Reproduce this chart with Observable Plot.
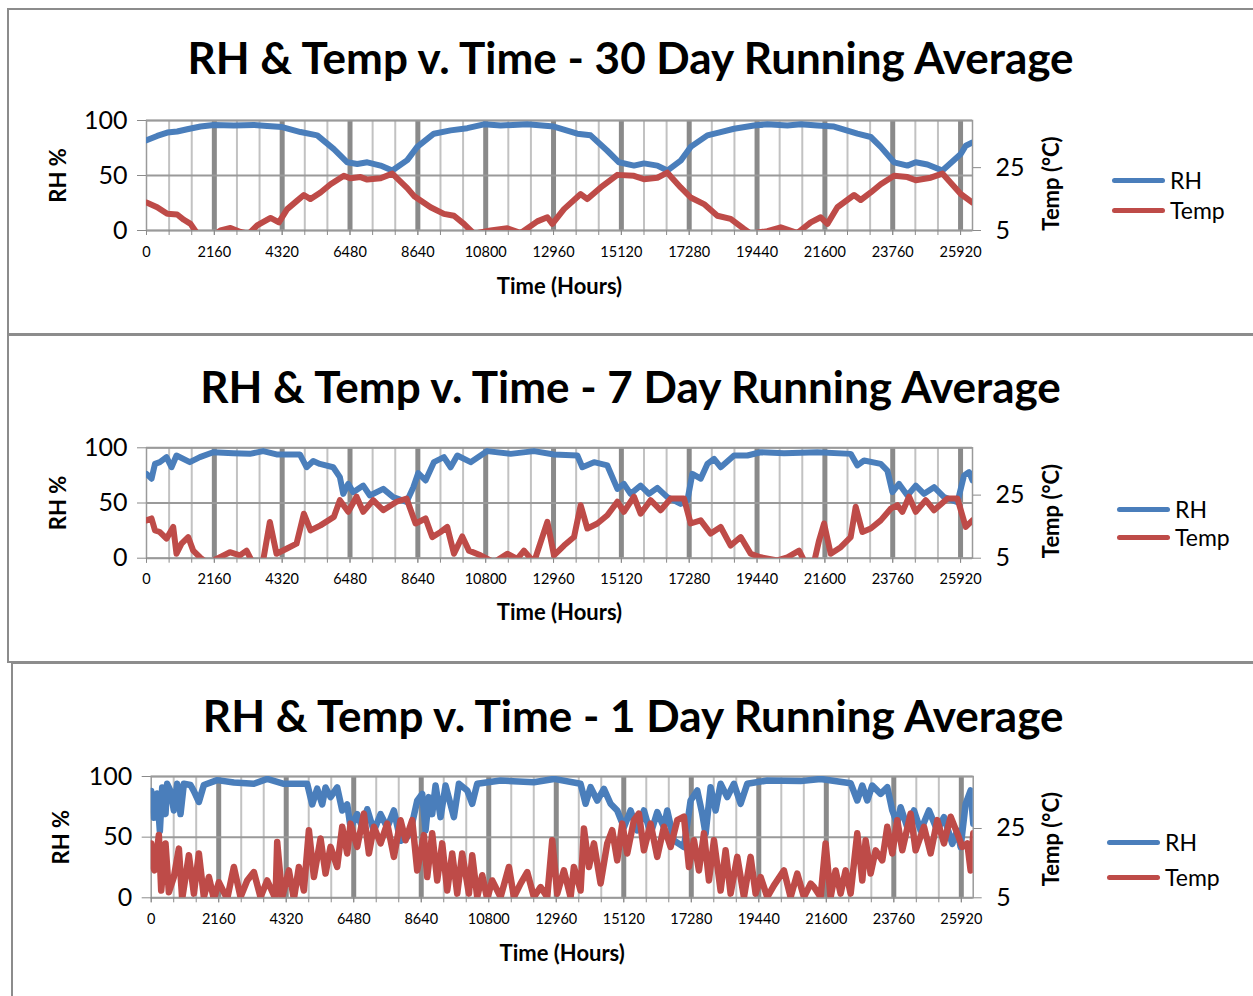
<!DOCTYPE html>
<html>
<head>
<meta charset="utf-8">
<script src="https://cdn.jsdelivr.net/npm/d3@7"></script>
<script src="https://cdn.jsdelivr.net/npm/@observablehq/plot@0.6"></script>
<style>
  html, body { margin: 0; padding: 0; background: #fff; }
  body { width: 1253px; height: 996px; position: relative; overflow: hidden; font-family: Lato, "Open Sans", sans-serif; }
  .panel { position: absolute; border: 2px solid #8c8c8c; box-sizing: border-box; }
  .chart { position: absolute; left: 0; }
  .legend { position: absolute; font-size: 23px; color: #000; }
  .legend .item { position: absolute; left: 0; height: 30px; white-space: nowrap; }
  .legend .swatch { position: absolute; left: 0; width: 53px; height: 5px; border-radius: 3px; }
  .legend .lab { position: absolute; left: 58px; line-height: 24px; top: -12px; }
</style>
</head>
<body>
<div class="panel" style="left:7px;top:8px;width:1260px;height:327px"></div>
<div class="panel" style="left:7px;top:334px;width:1260px;height:329px"></div>
<div class="panel" style="left:11px;top:662px;width:1260px;height:345px"></div>
<div id="c1" class="chart" style="top:0px"></div>
<div id="c2" class="chart" style="top:333px"></div>
<div id="c3" class="chart" style="top:663px"></div>
<script>
// ---------- shared axis data ----------
const xTicks = [0, 2160, 4320, 6480, 8640, 10800, 12960, 15120, 17280, 19440, 21600, 23760, 25920];
const rhTicks = [0, 50, 100];
const tempTicks = [5, 25];
const seriesNames = ["RH", "Temp"];
const seriesColors = ["#4a7ebb", "#be4b48"];
const titles = [
  "RH & Temp v. Time - 30 Day Running Average",
  "RH & Temp v. Time - 7 Day Running Average",
  "RH & Temp v. Time - 1 Day Running Average"
];
const xLabel = "Time (Hours)";
const yLabel = "RH %";
const y2Label = "Temp (°C)";

// ---------- 30 day running average ----------
const rh30Hours = [0,340,660,977,1296,1720,2144,2780,3418,3843,4320,4905,5437,5966,6392,6710,7030,7453,7825,8303,8620,9150,9683,10214,10745,11275,12125,12972,13716,14140,14673,15044,15521,15840,16266,16584,17008,17326,17858,18282,18707,19344,19769,20406,20830,21361,21892,22635,23060,23378,23803,24228,24493,24864,25342,25926,26085,26298];
const rh30Values = [82,86,89,90,92,94.5,96,95.5,96,95,94,89.5,86.5,74,62,60.5,62,59,54.5,64,76,88,91,93,96.5,95.5,96.5,94.5,88,86.5,72.5,62,59,61,59,54.5,63.5,76,86.5,89.5,92.5,95.5,96.5,95.5,96.5,95.5,94.5,88,85,76,62,59,62,60,54.5,69.5,77,80];
const temp30Hours = [0,340,660,977,1190,1403,1615,2144,2356,2675,2993,3259,3524,3950,4215,4480,4798,5010,5223,5541,5860,6284,6496,6815,7030,7453,7825,8303,8515,9045,9470,9790,10107,10426,10957,11488,11913,12444,12763,12922,13293,13824,14037,14462,14993,15521,15840,16266,16584,17008,17326,17751,18176,18600,19025,19237,19769,20194,20725,21149,21467,21680,21998,22528,22741,23060,23378,23803,24228,24493,24971,25342,25926,26298];
const temp30Values = [13.9,12.4,10.3,10.1,8.4,7.1,4,3.5,5,5.8,4.5,4,6.6,9,7.6,11.8,14.5,16.3,15,17.1,19.7,22.4,21.6,22,21.2,21.6,23.1,18.5,16,12.4,10.3,9.7,7.1,4,5,5.7,4.2,7.9,9.2,7.1,11.8,16.6,15,18.7,22.7,22.4,21.3,21.8,23.4,18.7,15.5,13.4,9.7,8.7,5.5,4,4.8,6,4.2,7.6,9.2,7.1,12.4,16.3,14.7,17.1,19.7,22.4,22,21,21.8,23.1,16.6,13.9];

// ---------- 7 day running average ----------
const rh7Hours = [0,160,270,425,637,796,955,1380,1700,2124,2760,3290,3715,4140,4884,5096,5308,5520,5945,6157,6264,6423,6582,6900,7113,7538,7856,8280,8493,8650,8886,9150,9470,9683,9896,10320,10850,11594,12337,12975,13718,13877,14250,14673,14993,15200,15414,15733,15999,16266,16584,17008,17220,17380,17645,17858,18070,18282,18707,19131,19556,20300,20830,21361,22422,22635,22847,23378,23590,23750,23962,24228,24493,24758,25076,25395,25820,26032,26191,26300];
const rh7Values = [76.4,72,85.4,87,91.5,82.4,93,87,91.5,96,95,94.5,97,94,94,82.4,88,85.4,82.4,73.4,58.3,67.3,59.8,65.8,56.8,62.8,55.3,51,64,77,70.4,87,91.5,82.4,93,87,97,94.5,97,94,93,82.4,87,84,62.8,67.3,58.3,65.8,58.3,63.7,55.3,49.2,52.2,76.4,72,85.4,90,82.4,93,93,96,95,95.5,96,94.5,84,88.5,85.4,79.4,59.8,67.3,56.8,65.8,58.3,64.3,55.3,50.7,75,78,70.4];
const temp7Hours = [0,160,270,425,637,850,955,1115,1327,1487,1700,1965,2230,2655,2973,3185,3400,3715,3927,4140,4458,4777,5010,5223,5541,5966,6157,6423,6688,6900,7219,7538,7963,8280,8567,8886,9098,9363,9576,9790,10054,10266,10638,11063,11488,11806,12019,12337,12763,12975,13293,13612,13824,14037,14356,14673,14993,15200,15521,15733,16050,16372,16690,17114,17326,17645,17964,18282,18600,18920,19237,19556,20088,20406,20778,20990,21255,21414,21573,21786,22104,22422,22581,22794,23060,23378,23696,23909,24068,24280,24493,24811,25076,25502,25820,26085,26300];
const temp7Values = [17,17.6,13.8,13.3,11.2,14.9,6.4,9.6,11.7,7.4,5.3,3.2,4.8,6.9,5.9,7.4,3.2,4.3,16.5,6.4,8,9.6,19.1,13.8,15.4,18.1,23.4,19.7,24.5,19.7,23.4,20.2,22.9,23.9,16,17.6,11.7,13.3,14.9,6.4,11.9,7.4,5.9,3.7,6.4,4.8,7.4,3.7,16.5,5.9,9,11.7,21.8,14.4,16,18.6,22.9,19.7,24.5,19.1,23.4,20.2,23.9,23.9,16,17,12.8,14.9,9,11.7,6.4,5.3,4.3,5.3,7.4,3.2,3.7,10.6,16,6.4,8.5,11.7,21.3,13.3,14.4,17,20.7,21.8,19.7,24.5,19.7,23.4,20.2,23.9,23.9,14.9,17];

// ---------- 1 day running average ----------
const rh1Hours = [0,85,192,277,352,458,511,618,725,831,938,1045,1258,1365,1525,1685,2111,2645,3285,3712,4245,4991,5151,5311,5472,5578,5738,5951,6112,6272,6378,6591,6752,6912,7125,7338,7552,7765,7978,8192,8298,8511,8671,8778,8885,8991,9098,9258,9418,9685,9845,10111,10271,10431,11178,12245,12885,13738,13898,14058,14271,14485,14698,14911,15125,15338,15551,15765,15978,16191,16405,16511,16725,17045,17258,17471,17631,17738,17898,18058,18218,18431,18645,18858,19071,19711,20778,21418,22378,22591,22751,22911,23071,23338,23551,23711,23871,23978,24191,24405,24618,24885,25151,25365,25631,25791,25898,26058,26218,26303];
const rh1Values = [88,66,86,55,91,69,94,88,72,94,69,94,93,88,79,93,97,95,94,98,94,94,77,90,77,91,83,91,72,77,58,69,58,73,55,69,58,72,47,50,55.5,80,85.7,55.5,83,69,92.6,66.5,92.6,66.5,94,88.5,77.5,94,96.7,95.3,98,94,77.5,91.2,80.2,89.8,77.5,72,58.2,72,55.5,72,52.7,70.6,58.2,72,47.3,41.8,80.2,88.5,69.2,52.7,91.2,72,94,83,94,77.5,94,96.7,96.2,98,94.5,80.2,92.6,80.2,92.6,85.7,91.2,72,61,74.7,58.2,72,55.5,72,55.5,66.5,44.5,55.5,41.8,77.5,88.5,61];
const temp1Hours = [0,53,106,245,320,458,565,725,885,991,1205,1365,1525,1685,1845,2005,2165,2431,2645,2858,3071,3285,3498,3712,3978,4031,4191,4405,4565,4725,4885,5045,5205,5418,5578,5738,5951,6112,6272,6378,6591,6805,6965,7125,7338,7552,7765,7978,8138,8351,8511,8725,8831,8991,9151,9311,9471,9631,9791,9951,10165,10271,10431,10591,10751,10911,11178,11445,11605,11818,12031,12245,12458,12671,12831,12991,13205,13418,13525,13738,13845,14005,14165,14378,14591,14751,14911,15071,15231,15445,15605,15765,15978,16191,16405,16618,16831,17045,17205,17365,17525,17685,17845,18005,18218,18378,18538,18751,18965,19178,19338,19498,19711,19925,20245,20458,20671,20885,21098,21205,21418,21578,21738,21898,22058,22218,22378,22591,22751,22858,23018,23178,23391,23551,23711,23871,24031,24298,24458,24725,24938,25151,25365,25578,25791,25951,26111,26218,26303];
const temp1Values = [20.7,13.9,12.9,23.1,7.1,20.7,6.6,11,19.2,4.7,17.3,6.2,17.8,5.2,11,4.7,9.5,4.7,13.9,5.2,10,12.4,5.2,10,4.7,21.1,5.2,12.9,4.7,13.9,7.1,24.5,11,22.1,12,19.7,13.9,25.5,17.8,26.4,19.7,29.3,17.8,25.5,20.7,26.4,16.8,27.4,21.6,27.4,12.9,23.1,11,23.6,10,20.7,7.1,17.8,6.2,17.8,6.2,17.3,5.2,11.5,4.7,10,5.2,13.9,5.2,9.1,12.4,5.2,8.1,5.2,21.6,6.2,12.9,5.2,13.9,7.1,25,13.9,20.7,9.1,20.7,24.5,15.8,26.4,17.8,27.4,29.3,18.7,26.4,16.8,25.5,19.7,27.4,28.4,13.9,21.6,12.9,23.6,10,21.6,7.1,18.7,6.2,16.8,5.2,16.8,6.2,11,5.2,8.6,12.9,5.2,12,5.2,9.1,8.1,5.2,20.7,5.2,12.9,6.2,12.9,6.2,23.6,10,21.6,12,18.7,15.8,25.5,17.8,27.4,18.7,29.3,18.7,25.5,17.8,27.4,20.7,28.4,23.6,19.7,20.7,12.9,23.6];

// ---------- helpers ----------
const toY = t => (t - 5) / 35 * 100;          // temperature on the RH scale (5..40 °C)
const fromY = y => String(Math.round(y * 35 / 100 + 5));
const table = (hours, values) => hours.map((h, i) => ({h, v: values[i]}));
const minorGrid = d3.range(720, 26300, 720).filter(d => d % 2160 !== 0);
const majorGrid = xTicks.slice(1);
const gridAll = d3.range(0, 26300, 720);

function chart(o) {
  const rh = table(o.rhH, o.rhV);
  const tp = table(o.tH, o.tV).map(d => ({h: d.h, v: toY(d.v)}));
  const lbl = {fontWeight: "bold", lineAnchor: "middle", textAnchor: "middle"};
  return Plot.plot({
    width: 1253, height: o.height,
    marginTop: o.mt, marginBottom: o.mb, marginLeft: o.ml, marginRight: o.mr,
    style: {background: "transparent", fontFamily: "Lato, 'Open Sans', sans-serif", color: "#000", overflow: "visible"},
    x: {domain: [0, 26300]},
    y: {domain: [0, 100]},
    marks: [
      Plot.ruleX(minorGrid, {stroke: "#c2c2c2", strokeWidth: 2}),
      Plot.ruleX(majorGrid, {stroke: "#8a8a8a", strokeWidth: 5}),
      Plot.ruleY(rhTicks, {stroke: "#9a9a9a", strokeWidth: 2}),
      Plot.frame({stroke: "#9a9a9a", strokeWidth: 1.5}),
      Plot.axisY(rhTicks, {anchor: "left", tickSize: 9, tickPadding: 10, fontSize: 25, stroke: "#8a8a8a", label: null}),
      Plot.axisY(tempTicks.map(toY), {anchor: "right", tickSize: 8, tickPadding: 15, fontSize: 25, stroke: "#8a8a8a", tickFormat: fromY, label: null}),
      Plot.axisX(gridAll, {anchor: "bottom", tickSize: 5, stroke: "#8a8a8a", tickFormat: () => "", label: null}),
      Plot.axisX(xTicks, {anchor: "bottom", tickSize: 5, tickPadding: 11, fontSize: 14.5, stroke: "#8a8a8a", tickFormat: d => String(d), label: null}),
      Plot.line(rh, {x: "h", y: "v", stroke: seriesColors[0], strokeWidth: o.sw, strokeLinejoin: "round", strokeLinecap: "round", clip: true}),
      Plot.line(tp, {x: "h", y: "v", stroke: seriesColors[1], strokeWidth: o.sw, strokeLinejoin: "round", strokeLinecap: "round", clip: true}),
      Plot.text([o.title], {frameAnchor: "top", dx: o.titleDx, dy: o.titleDy, fontSize: 44, ...lbl}),
      Plot.text([yLabel], {frameAnchor: "left", dx: o.yLabDx, rotate: -90, fontSize: 22, ...lbl}),
      Plot.text([y2Label], {frameAnchor: "right", dx: 79, dy: o.y2LabDy, rotate: -90, fontSize: 22, ...lbl}),
      Plot.text([xLabel], {frameAnchor: "bottom", dy: o.xLabDy, fontSize: 22, ...lbl})
    ]
  });
}

function legend(left, top, gap) {
  const div = document.createElement("div");
  div.className = "legend";
  div.style.left = left + "px";
  div.style.top = top + "px";
  seriesNames.forEach((name, i) => {
    const item = document.createElement("div");
    item.className = "item";
    item.style.top = (i * gap) + "px";
    const sw = document.createElement("div");
    sw.className = "swatch";
    sw.style.background = seriesColors[i];
    sw.style.top = "-2.5px";
    const lab = document.createElement("div");
    lab.className = "lab";
    lab.textContent = name;
    item.appendChild(sw);
    item.appendChild(lab);
    div.appendChild(item);
  });
  document.body.appendChild(div);
}

document.getElementById("c1").appendChild(chart({
  rhH: rh30Hours, rhV: rh30Values, tH: temp30Hours, tV: temp30Values,
  height: 333, mt: 120, mb: 103, ml: 146, mr: 281, sw: 6,
  title: titles[0], titleDx: 71, titleDy: -61, yLabDx: -88, y2LabDy: 8, xLabDy: 56
}));
document.getElementById("c2").appendChild(chart({
  rhH: rh7Hours, rhV: rh7Values, tH: temp7Hours, tV: temp7Values,
  height: 330, mt: 114.3, mb: 105.3, ml: 146, mr: 281, sw: 6,
  title: titles[1], titleDx: 71, titleDy: -59, yLabDx: -88, y2LabDy: 8, xLabDy: 55
}));
document.getElementById("c3").appendChild(chart({
  rhH: rh1Hours, rhV: rh1Values, tH: temp1Hours, tV: temp1Values,
  height: 333, mt: 113, mb: 98.7, ml: 150.7, mr: 280.3, sw: 6.5,
  title: titles[2], titleDx: 71, titleDy: -59, yLabDx: -89, y2LabDy: 2, xLabDy: 56
}));
legend(1112, 180, 30);
legend(1117, 509, 28);
legend(1107, 842, 35);
</script>
</body>
</html>
